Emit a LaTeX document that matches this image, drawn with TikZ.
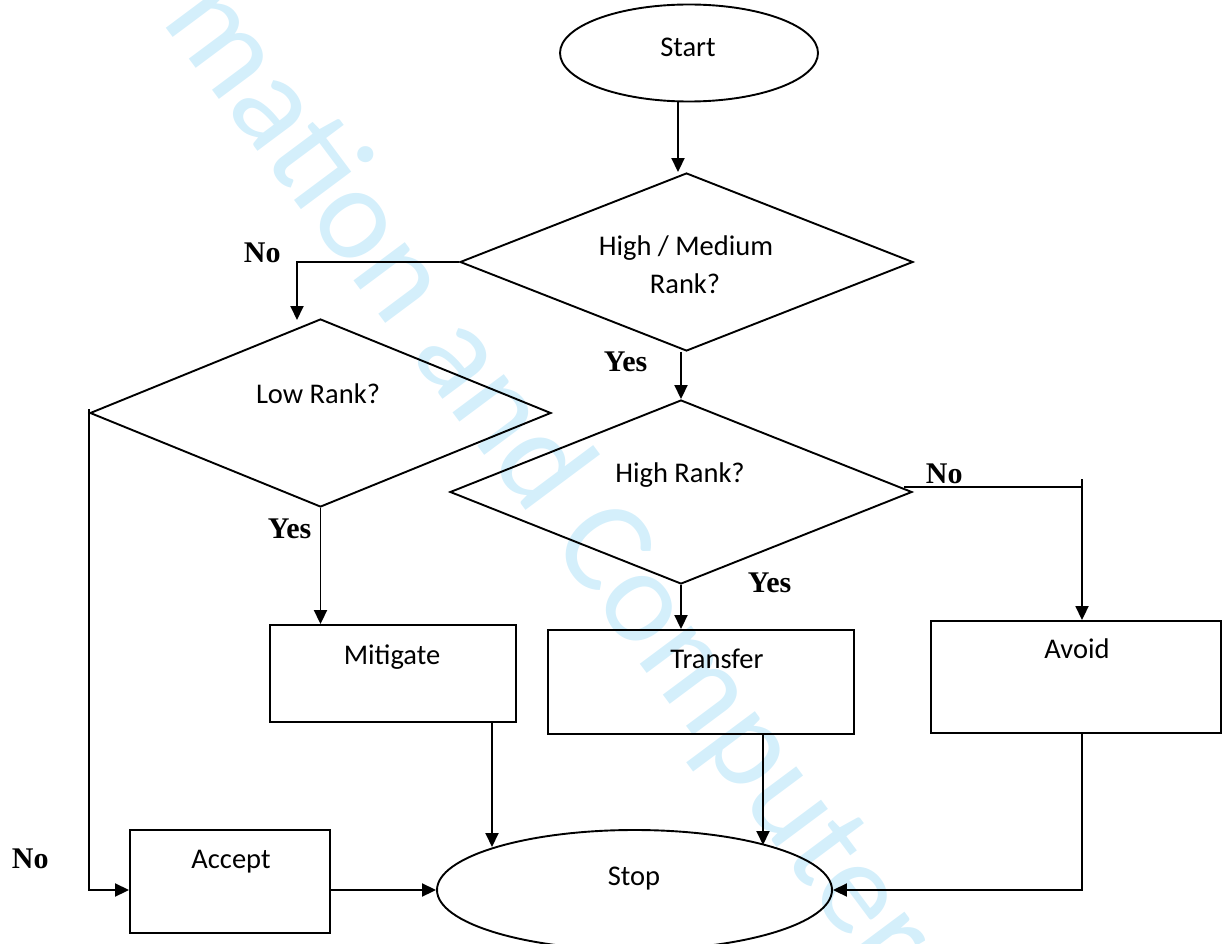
\documentclass[tikz,border=0pt]{standalone}
\usepackage{fontspec}
\setmainfont{Carlito}
\newfontfamily\labelfont{Liberation Serif}
\usetikzlibrary{shapes.geometric,arrows.meta,calc}
\definecolor{wmblue}{RGB}{212,239,251}
\begin{document}
\begin{tikzpicture}[x=1pt,y=-1pt,
  line width=1.9pt,
  shapebox/.style={draw, rectangle, inner sep=0pt},
  terminal/.style={draw, ellipse, inner sep=0pt},
  decision/.style={draw, diamond, inner sep=0pt},
  txt/.style={inner sep=0pt, anchor=base, font=\fontsize{28.5}{34}\selectfont},
  tag/.style={inner sep=0pt, anchor=base west, font=\labelfont\bfseries\fontsize{30}{34}\selectfont},
  arr/.style={-{Triangle[length=14pt,width=13pt]}},
  wm/.style={inner sep=0pt, text=wmblue, font=\fontsize{134}{134}\selectfont}
]
\useasboundingbox (0,0) rectangle (1223,944);

% faint diagonal watermark behind everything
\node[wm, rotate=-53.3, anchor=base west] (wm) at (160,20) {mation and Computer};

% shapes
\node[terminal, minimum width=258pt, minimum height=97pt] (start) at (689,53) {};
\node[decision, minimum width=453pt, minimum height=178pt] (d1) at (686.5,262) {};
\node[decision, minimum width=462pt, minimum height=184pt] (d2) at (681,492) {};
\node[decision, minimum width=461pt, minimum height=188pt] (d3) at (320.5,413) {};
\node[shapebox, minimum width=246pt, minimum height=97pt] (mit) at (393,673.5) {};
\node[shapebox, minimum width=306pt, minimum height=104pt] (tra) at (701,682) {};
\node[shapebox, minimum width=290pt, minimum height=112pt] (avo) at (1076,677) {};
\node[shapebox, minimum width=200pt, minimum height=103pt] (acc) at (230,881.5) {};
\node[terminal, minimum width=395pt, minimum height=120pt] (stop) at (634.5,890) {};

% texts
\node[txt] (t-start) at (688,57) {Start};
\node[txt] (t-d1a) at (686,255) {High / Medium};
\node[txt] (t-d1b) at (685,293) {Rank?};
\node[txt] (t-d2) at (680,482) {High Rank?};
\node[txt] (t-d3) at (318,403) {Low Rank?};
\node[txt] (t-mit) at (392,664) {Mitigate};
\node[txt] (t-tra) at (717,668) {Transfer};
\node[txt] (t-avo) at (1077,658) {Avoid};
\node[txt] (t-acc) at (231,868) {Accept};
\node[txt] (t-stop) at (634,885) {Stop};

% branch labels
\node[tag] (no1) at (243,262) {No};
\node[tag] (yes1) at (603,371) {Yes};
\node[tag] (no2) at (925,483) {No};
\node[tag] (yes2) at (747,592) {Yes};
\node[tag] (yes3) at (267,538) {Yes};
\node[tag] (no3) at (11,868) {No};

% helper points
\coordinate (a1) at (678,0);
\coordinate (n1) at (297,320);
\coordinate (c7) at (1082,487);
\coordinate (m8) at (492,847);
\coordinate (t9) at (763,845);
\coordinate (c10) at (1082,890);

% connectors
\draw[arr] (start.south -| a1) -- (d1.north -| a1);
\draw[arr] (d1.south -| d2.north) -- (d2.north);
\draw[arr] (d1.west) -- (d1.west -| n1) -- (n1);
\draw[arr] (d3.south) -- (d3.south |- mit.north);
\draw[arr] ([yshift=4pt]d3.west) -- (d3.west |- stop.west) -- (acc.west |- stop.west);
\draw[arr] (d2.south) -- (d2.south |- tra.north);
\draw[arr] ([xshift=-9pt,yshift=5pt]d2.east) -- (c7) -- (c7 |- avo.north);
\draw (c7) -- ++(0,-8);
\draw[arr] (mit.south -| m8) -- (m8);
\draw[arr] (tra.south -| t9) -- (t9);
\draw[arr] (avo.south -| c10) -- (c10) -- (stop.east);
\draw[arr] (acc.east |- stop.west) -- (stop.west);
\end{tikzpicture}
\end{document}
